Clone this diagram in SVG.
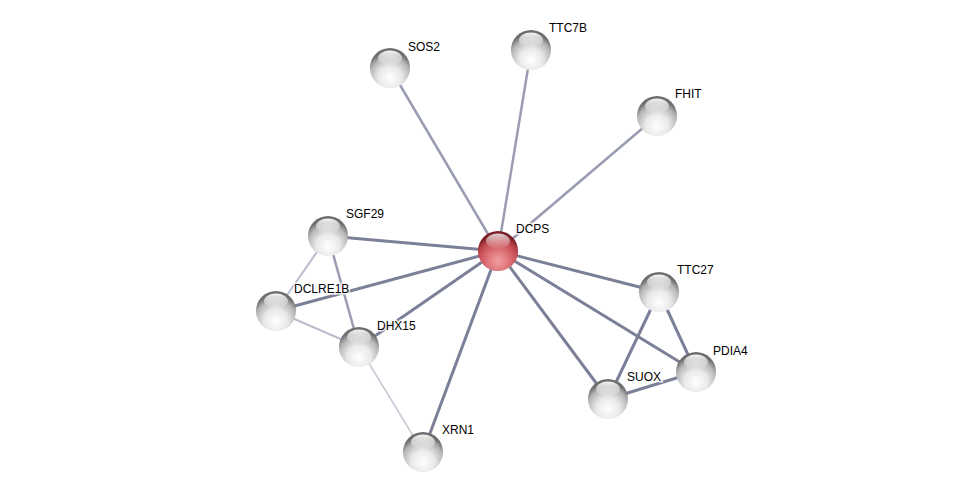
<svg xmlns="http://www.w3.org/2000/svg" width="976" height="496" viewBox="0 0 976 496">
<defs>
<radialGradient id="gGray" cx="50%" cy="75%" r="65%">
<stop offset="0" stop-color="#ffffff"/>
<stop offset="0.45" stop-color="#e9e9e9"/>
<stop offset="0.8" stop-color="#b4b4b4"/>
<stop offset="1" stop-color="#6e6e6e"/>
</radialGradient>
<radialGradient id="gRed" cx="50%" cy="75%" r="65%">
<stop offset="0" stop-color="#f2a0a4"/>
<stop offset="0.45" stop-color="#dc7075"/>
<stop offset="0.8" stop-color="#c0454c"/>
<stop offset="1" stop-color="#7a2026"/>
</radialGradient>
<linearGradient id="gHi" x1="0" y1="0" x2="0" y2="1">
<stop offset="0" stop-color="#ffffff" stop-opacity="0.95"/>
<stop offset="1" stop-color="#ffffff" stop-opacity="0.05"/>
</linearGradient>
<g id="sphere">
<circle r="20" fill="url(#gGray)"/>
<ellipse cx="0" cy="-10" rx="12" ry="7.5" fill="url(#gHi)"/>
</g>
<g id="sphereRed">
<circle r="20" fill="url(#gRed)"/>
<ellipse cx="0" cy="-10" rx="12" ry="7.5" fill="url(#gHi)" opacity="0.85"/>
</g>
</defs>
<style>
.lbl{font-family:"Liberation Sans",Arial,sans-serif;font-size:12px;fill:#000;stroke:#fff;stroke-width:3px;stroke-opacity:0.8;paint-order:stroke;}
.e1{stroke:#7b8098;stroke-width:3;fill:none;}
.e2{stroke:#9a9db2;stroke-width:2.5;fill:none;}
.e3{stroke:#b9bccc;stroke-width:2;fill:none;}
.e4{stroke:#c8c8d6;stroke-width:1.5;fill:none;}
</style>
<rect width="976" height="496" fill="#fff"/>
<g id="edges">
<line class="e2" x1="498" y1="251" x2="390" y2="68"/>
<line class="e2" x1="498" y1="251" x2="531" y2="50"/>
<line class="e2" x1="498" y1="251" x2="657" y2="116"/>
<line class="e1" x1="498" y1="251" x2="328" y2="236"/>
<line class="e1" x1="498" y1="251" x2="276" y2="311"/>
<line class="e1" x1="498" y1="251" x2="359" y2="347"/>
<line class="e1" x1="498" y1="251" x2="423" y2="452"/>
<line class="e1" x1="498" y1="251" x2="659" y2="292"/>
<line class="e1" x1="498" y1="251" x2="696" y2="372"/>
<line class="e1" x1="498" y1="251" x2="608" y2="399"/>
<line class="e3" x1="328" y1="236" x2="276" y2="311"/>
<line class="e2" x1="328" y1="236" x2="359" y2="347"/>
<line class="e3" x1="276" y1="311" x2="359" y2="347"/>
<line class="e4" x1="359" y1="347" x2="423" y2="452"/>
<line class="e1" x1="659" y1="292" x2="608" y2="399"/>
<line class="e1" x1="659" y1="292" x2="696" y2="372"/>
<line class="e1" x1="696" y1="372" x2="608" y2="399"/>
</g>
<g id="SOS2"><use href="#sphere" x="390" y="68"/><text class="lbl" x="408" y="51">SOS2</text></g>
<g id="TTC7B"><use href="#sphere" x="531" y="50"/><text class="lbl" x="549" y="32">TTC7B</text></g>
<g id="FHIT"><use href="#sphere" x="657" y="116"/><text class="lbl" x="675" y="98">FHIT</text></g>
<g id="SGF29"><use href="#sphere" x="328" y="236"/><text class="lbl" x="346" y="218">SGF29</text></g>
<g id="DCLRE1B"><use href="#sphere" x="276" y="311"/><text class="lbl" x="294" y="293">DCLRE1B</text></g>
<g id="DHX15"><use href="#sphere" x="359" y="347"/><text class="lbl" x="377" y="330">DHX15</text></g>
<g id="XRN1"><use href="#sphere" x="423" y="452"/><text class="lbl" x="442" y="434">XRN1</text></g>
<g id="TTC27"><use href="#sphere" x="659" y="292"/><text class="lbl" x="677" y="274">TTC27</text></g>
<g id="PDIA4"><use href="#sphere" x="696" y="372"/><text class="lbl" x="713" y="355">PDIA4</text></g>
<g id="SUOX"><use href="#sphere" x="608" y="399"/><text class="lbl" x="627" y="381">SUOX</text></g>
<g id="DCPS"><use href="#sphereRed" x="498" y="251"/><text class="lbl" x="516" y="233">DCPS</text></g>
</svg>
